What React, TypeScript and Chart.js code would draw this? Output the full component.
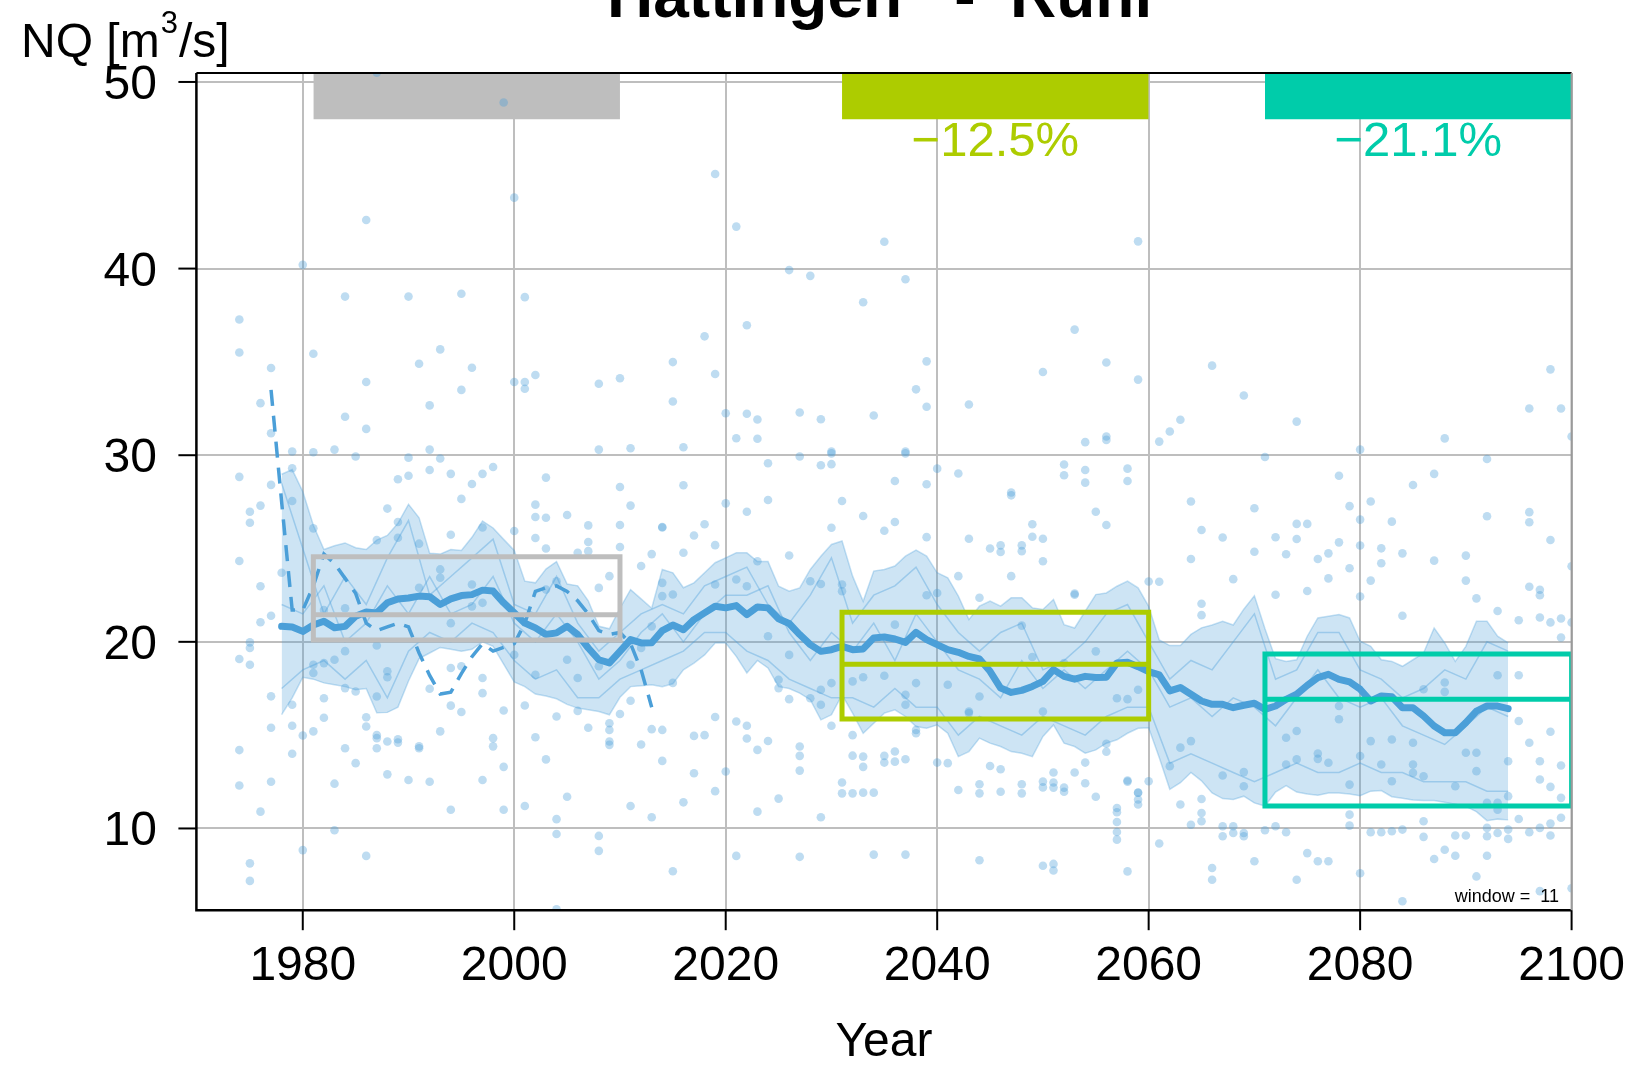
import React, { useEffect, useRef } from "react";
import { Chart, registerables } from "chart.js";

Chart.register(...registerables);

const W = 1638;
const H = 1072;
const FONT = '"Liberation Sans", Arial, Helvetica, sans-serif';

// ---- axes ----
const xTicks = [1980, 2000, 2020, 2040, 2060, 2080, 2100];
const yTicks = [10, 20, 30, 40, 50];

// ---- ensemble running mean (window = 11), yearly from 1978 ----
const bandStartYear = 1978;
const median = [
  20.83, 20.8, 20.56, 20.9, 21.1, 20.75, 20.83, 21.37, 21.6, 21.55,
  22.09, 22.3, 22.35, 22.45, 22.42, 22.0, 22.3, 22.48, 22.53, 22.77,
  22.72, 22.09, 21.55, 21.0, 20.75, 20.39, 20.48, 20.83, 20.39, 19.67,
  19.04, 18.87, 19.49, 20.12, 19.94, 19.95, 20.6, 20.9, 20.65, 21.19,
  21.55, 21.91, 21.82, 21.94, 21.46, 21.87, 21.82, 21.23, 20.98, 20.39,
  19.85, 19.49, 19.58, 19.76, 19.58, 19.62, 20.21, 20.26, 20.15, 19.97,
  20.51, 20.12, 19.85, 19.58, 19.44, 19.22, 19.08, 18.42, 17.52, 17.29,
  17.4, 17.61, 17.88, 18.51, 18.15, 18.0, 18.15, 18.09, 18.1, 18.87,
  18.9, 18.67, 18.4, 18.23, 17.37, 17.55, 17.19, 16.83, 16.65, 16.65,
  16.47, 16.6, 16.71, 16.38, 16.56, 16.92, 17.19, 17.67, 18.08, 18.26,
  17.99, 17.85, 17.46, 16.83, 17.1, 17.06, 16.47, 16.47, 16.03, 15.49,
  15.13, 15.13, 15.67, 16.29, 16.56, 16.56, 16.42,
];
const bandUpper = [
  28.98, 29.23, 28.05, 26.25, 24.95, 25.15, 25.3, 25.04, 24.95, 25.45,
  25.7, 26.35, 27.37, 26.65, 24.75, 24.7, 24.95, 24.9, 25.6, 26.47,
  26.1, 25.49, 24.9, 23.25, 23.16, 23.9, 24.3, 23.1, 23.0, 22.2,
  20.83, 20.7, 21.8, 22.8, 22.3, 21.8, 23.88, 23.7, 22.9, 23.16,
  23.7, 24.24, 24.5, 24.77, 24.77, 24.3, 24.3, 22.98, 22.71, 22.89,
  23.88, 24.59, 25.22, 25.4, 23.52, 22.17, 23.79, 23.88, 24.06, 24.59,
  24.92, 24.59, 23.7, 23.43, 22.45, 21.19, 21.91, 22.18, 21.91, 22.36,
  22.36, 21.82, 21.73, 22.27, 20.92, 20.74, 21.64, 22.53, 22.62, 22.98,
  23.25, 22.89, 21.9, 20.1, 19.8, 19.8, 20.4, 20.75, 20.9, 21.1,
  20.9, 21.75, 22.47, 20.7, 19.1, 18.95, 19.04, 20.3, 21.28, 21.37,
  21.46, 21.28, 20.03, 19.76, 19.04, 18.95, 18.69, 19.04, 19.4, 20.74,
  19.94, 18.95, 19.76, 21.1, 21.1, 20.3, 19.94,
];
const bandLower = [
  16.1, 17.0, 18.1, 18.0, 17.8, 17.7, 17.6, 17.43, 17.5, 16.2,
  16.22, 16.5, 17.9, 19.1, 19.4, 19.7, 19.6, 19.5, 19.6, 20.0,
  19.76, 18.8, 17.85, 17.6, 17.2, 17.1, 16.95, 16.65, 16.45, 16.36,
  16.27, 16.09, 17.03, 17.6, 17.65, 17.7, 17.6, 17.75, 18.5, 18.86,
  19.3, 19.94, 19.94, 19.22, 18.33, 19.0, 18.6, 17.6, 17.5, 17.25,
  16.9, 15.82, 16.09, 17.16, 16.18, 15.1, 15.64, 16.18, 16.36, 16.0,
  15.46, 15.37, 15.55, 15.1, 13.85, 14.12, 14.84, 14.57, 14.39, 14.12,
  14.03, 13.85, 14.93, 15.55, 14.57, 14.39, 14.03, 14.21, 14.57, 14.75,
  15.1, 15.37, 15.4, 13.8, 12.1, 12.45, 13.0, 12.55, 11.9, 11.6,
  11.55, 11.73, 11.37, 11.2, 11.95, 12.3, 11.95, 11.85, 11.78, 11.9,
  11.9, 11.85, 11.75, 12.0, 12.03, 11.7, 11.62, 11.53, 11.5, 11.5,
  11.4, 11.3, 11.18, 10.9, 10.42, 10.5, 10.46,
];

// ---- single ensemble members (every 2nd year from 1978) ----
const memberStartYear = 1978;
const memberA = [
  28.5, 25, 21.5, 23.5, 22, 24.5, 26.5, 22.5, 23.5, 24.5, 25.5, 22, 21.5, 23.5, 21,
  19.5, 20.5, 21.5, 22, 21.5, 23, 23.5, 24, 22, 21, 22.5, 24.5, 21, 22.5, 23,
  24, 22, 20.5, 19.5, 20.5, 21, 18.5, 19, 20, 21.5, 22, 20, 18, 19, 18.5,
  20, 21.5, 18, 18.5, 20.5, 20.5, 18.5, 18, 17, 17.5, 18.5, 18, 20, 19.5,
];
const memberB = [
  17.5, 18.5, 19, 18, 19, 17, 19.5, 20.5, 20, 21, 20.5, 19, 18, 18.5, 17,
  17, 18, 18.5, 19, 19.5, 20.5, 20.5, 19.5, 19, 18, 17.5, 17, 17, 16.5, 17.5,
  16.5, 16.5, 15, 16, 15.5, 15, 16, 15.5, 15, 16, 16.5, 16.5, 13.5, 14, 13.5,
  13, 12.5, 13, 13.5, 13, 13, 13.5, 13, 13, 12.5, 12.5, 12.5, 12, 12,
];
const memberC = [
  22, 21.5, 23, 20, 21, 23, 21.5, 23.5, 21.5, 22, 23.5, 21, 20, 21.5, 20,
  18, 19, 20.5, 21.5, 20, 21.5, 22.5, 22.5, 23, 20.5, 19, 20.5, 19.5, 21, 19,
  21.5, 20, 18.5, 18, 17, 19, 17.5, 18.5, 17.5, 18.5, 19.5, 18.5, 16.5, 17, 16,
  17, 16.5, 15.5, 17, 18.5, 17, 16.5, 17, 15.5, 15, 14.5, 15.5, 16.5, 16,
];

// ---- observed running mean (dashed), yearly from 1977 ----
const observedStartYear = 1977;
const observed = [
  33.5, 27.5, 21.7, 21.7, 23.0, 24.7, 24.2, 23.4, 22.6, 21.0,
  20.6, 20.8, 21.0, 20.8, 19.4, 18.2, 17.2, 17.3, 18.3, 19.2,
  19.9, 19.5, 19.7, 19.9, 21.0, 22.7, 22.9, 23.0, 22.7, 22.2,
  21.5, 20.6, 20.4, 20.5, 19.9, 18.5, 16.5,
];

// ---- periods: reference 1981-2010, near future, far future ----
const periodStart = [1981, 2031, 2071];
const periodEnd = [2010, 2060, 2100];
const boxLow = [20.1, 15.86, 11.2];
const boxHigh = [24.56, 21.58, 19.35];
const boxMean = [21.45, 18.8, 16.92];
const changeLabels = ["", "\u221212.5%", "\u221221.1%"];
const barBottom = 48;

// ---- annual values of all members (year, value) ----
const dots: [number, number][] = [
  [1987, 50.5], [1999, 48.9], [2000, 43.8], [1986, 42.6], [1980, 40.2], [1984, 38.5], [1990, 38.5],
  [1995, 38.65], [2001, 38.47], [1974, 37.27], [1974, 35.5], [1981, 35.44], [1993, 35.67], [1977, 34.67],
  [1991, 34.9], [1996, 34.69], [1986, 33.92], [2000, 33.92], [2001, 33.92], [2001, 33.56], [2002, 34.3],
  [1995, 33.5], [2008, 33.83], [2010, 34.12], [2015, 34.99], [2015, 32.88], [1976, 32.79], [1992, 32.67],
  [1984, 32.06], [1986, 31.41], [1977, 31.18], [1979, 30.2], [1981, 30.16], [1983, 30.3], [1992, 30.3],
  [2008, 30.3], [2011, 30.37], [2016, 30.43],
  [2019, 45.07], [2021, 42.25], [2035, 41.44], [2059, 41.46], [2026, 39.92], [2028, 39.61], [2037, 39.43],
  [2033, 38.2], [2022, 36.96], [2053, 36.73], [2018, 36.37], [2019, 34.35], [2039, 35.03], [2056, 34.97],
  [2050, 34.46], [2059, 34.05], [2038, 33.53], [2039, 32.6], [2043, 32.72], [2020, 32.25], [2022, 32.22],
  [2023, 31.91], [2027, 32.29], [2029, 31.93], [2034, 32.13], [2021, 30.91], [2023, 30.88], [2056, 31.0],
  [2056, 30.82], [2054, 30.7], [2061, 30.73], [2062, 31.27], [2063, 31.9], [2030, 30.2], [2037, 30.2],
  [1985, 29.93], [1990, 29.87], [1993, 29.82], [1974, 28.84], [1979, 29.3], [1979, 27.55], [1977, 28.41],
  [1976, 27.3], [1975, 26.97], [1975, 26.38], [1989, 28.71], [1990, 28.9], [1992, 29.21], [1994, 29.0],
  [1997, 29.0], [1998, 29.37], [1996, 28.46], [1995, 27.66], [2003, 28.8], [2002, 27.35], [2002, 26.69],
  [2003, 26.65], [2005, 26.8], [2010, 28.3], [2011, 27.3], [2014, 26.13], [2013, 24.7], [2012, 24.06],
  [2009, 23.52], [2010, 26.26], [2010, 25.08], [2007, 26.24], [2007, 25.35], [2007, 24.86], [2006, 24.77],
  [2008, 22.89], [2000, 25.94], [2002, 25.56], [2003, 25.0], [1994, 25.74], [1988, 27.14], [1989, 26.42],
  [1989, 25.58], [1987, 25.45], [1991, 25.26], [1997, 26.13], [1981, 26.08], [1974, 24.33], [1976, 22.98],
  [1978, 23.7], [1976, 21.05], [1977, 21.4], [1974, 19.08], [1975, 19.97], [1975, 19.67], [1975, 18.77],
  [1977, 17.08], [1979, 16.63], [1979, 15.5], [1980, 14.98], [1982, 16.98], [1982, 15.93], [1984, 17.52],
  [1985, 17.34], [1986, 15.96], [1986, 15.46], [1987, 14.84], [1988, 14.66], [1989, 14.78], [1991, 14.4],
  [1992, 17.49], [1994, 18.6], [1995, 16.24], [1994, 16.58], [1997, 18.06], [1997, 17.25], [1998, 14.84],
  [1998, 14.4], [1999, 16.32], [2001, 16.59], [2002, 14.89], [2004, 16.0], [2006, 16.3], [2009, 15.64],
  [2009, 15.28], [2009, 14.66], [2009, 14.48], [2010, 16.13], [2012, 14.5], [2013, 15.32], [2014, 15.28],
  [2011, 16.84], [1981, 18.77], [1981, 18.33], [1982, 18.86], [1983, 19.04], [1982, 21.7], [1984, 21.8],
  [1984, 19.5], [1987, 19.8], [1988, 18.42], [1988, 18.1], [1987, 17.07], [1991, 22.9], [1993, 23.88],
  [1993, 23.43], [1994, 21.0], [1995, 18.69], [1996, 23.07], [1996, 21.9], [1997, 22.09], [2000, 19.31],
  [2002, 18.24], [2003, 22.8], [2004, 23.25], [2005, 19.04], [2006, 18.06], [2008, 18.69], [2011, 18.77],
  [2012, 19.67], [2013, 20.83], [2014, 23.16], [2015, 22.54], [2015, 17.8],
  [2016, 28.39], [2024, 29.57], [2027, 29.93], [2029, 29.46], [2030, 30.1], [2030, 29.52], [2037, 30.1],
  [2024, 27.6], [2022, 26.97], [2014, 26.15], [2018, 26.3], [2017, 25.7], [2019, 25.18], [2016, 24.77],
  [2020, 27.42], [2031, 27.55], [2033, 26.74], [2030, 26.11], [2036, 28.62], [2039, 28.44], [2040, 29.28],
  [2042, 29.02], [2036, 26.42], [2035, 25.95], [2039, 25.61], [2047, 28.0], [2047, 27.85], [2052, 29.5],
  [2052, 28.93], [2054, 29.21], [2054, 28.53], [2058, 29.28], [2058, 28.62], [2043, 25.52], [2045, 25.0],
  [2046, 25.17], [2046, 24.81], [2048, 25.17], [2048, 24.86], [2049, 26.3], [2049, 25.63], [2050, 25.52],
  [2050, 24.32], [2055, 26.97], [2056, 26.26], [2047, 23.52], [2044, 22.36], [2042, 23.52], [2053, 22.52],
  [2060, 23.23], [2026, 24.63], [2023, 24.32], [2022, 22.98], [2014, 22.45], [2028, 23.25], [2029, 23.1],
  [2031, 23.07], [2031, 22.71],
  [2017, 14.96], [2018, 15.0], [2019, 15.97], [2021, 15.73], [2022, 15.5], [2022, 14.82], [2023, 14.21],
  [2024, 14.69], [2014, 13.62], [2017, 12.96], [2020, 13.05], [2027, 14.39], [2027, 13.89], [2027, 13.1],
  [2030, 15.5], [2031, 12.46], [2031, 11.88], [2032, 15.0], [2032, 13.9], [2032, 11.88], [2033, 13.85],
  [2033, 13.3], [2033, 11.92], [2034, 11.92], [2035, 13.89], [2035, 13.53], [2036, 14.12], [2036, 13.58],
  [2037, 13.71], [2038, 15.28], [2038, 15.1], [2040, 13.53], [2041, 13.5], [2042, 12.06], [2044, 12.37],
  [2044, 11.88], [2045, 13.35], [2046, 13.17], [2046, 11.97], [2048, 12.37], [2048, 11.88], [2050, 12.51],
  [2050, 12.2], [2051, 13.0], [2051, 12.46], [2051, 12.19], [2052, 12.19], [2052, 11.97], [2053, 13.0],
  [2054, 13.53], [2054, 12.42], [2055, 11.7], [2058, 12.51], [2059, 11.92],
  [2019, 23.07], [2021, 23.34], [2024, 20.3], [2026, 19.3], [2025, 17.97], [2025, 17.52], [2026, 16.93],
  [2028, 16.98], [2029, 17.43], [2029, 16.63], [2030, 17.79], [2032, 17.88], [2033, 18.1], [2035, 18.18],
  [2036, 20.92], [2037, 17.16], [2037, 16.63], [2038, 17.79], [2039, 22.5], [2040, 22.62], [2041, 17.7],
  [2043, 16.27], [2043, 16.18], [2044, 17.07], [2048, 20.87], [2049, 19.19], [2050, 16.27], [2052, 18.86],
  [2053, 22.59], [2055, 19.49], [2057, 16.98], [2058, 16.93], [2059, 17.43],
  [2064, 27.52], [2081, 27.52], [2070, 27.16], [2079, 27.27], [2096, 26.95], [2096, 26.41], [2092, 26.73],
  [2074, 26.32], [2075, 26.32], [2080, 26.55], [2083, 26.44], [2065, 25.99], [2074, 25.51], [2072, 25.6],
  [2078, 25.33], [2098, 25.46], [2080, 25.16], [2082, 25.01], [2070, 24.83], [2073, 24.69], [2077, 24.74],
  [2084, 24.74], [2090, 24.62], [2064, 24.44], [2076, 24.44], [2082, 24.21], [2087, 24.35], [2067, 25.59],
  [2079, 23.94], [2100, 24.05], [2068, 23.36], [2061, 23.22], [2077, 23.4], [2081, 23.28], [2090, 23.28],
  [2096, 22.95], [2097, 22.79], [2097, 22.5], [2072, 22.52], [2075, 22.72], [2091, 22.33], [2065, 22.04],
  [2065, 21.43], [2080, 22.43], [2084, 21.4], [2093, 21.65], [2095, 21.16], [2097, 21.3], [2099, 21.25],
  [2100, 21.04], [2098, 21.04], [2099, 20.23], [2095, 18.21], [2098, 15.18], [2096, 14.59], [2095, 15.76],
  [2097, 13.6], [2099, 13.37], [2097, 12.62], [2098, 12.23], [2099, 11.64], [2095, 10.51], [2096, 9.8],
  [2097, 10.03], [2098, 10.26], [2099, 10.57], [2098, 9.62], [2093, 9.76], [2094, 9.94], [2094, 9.44],
  [2092, 10.03], [2092, 9.58], [2092, 8.54], [2091, 7.43], [2090, 9.62], [2089, 9.62], [2089, 8.54],
  [2087, 8.36], [2088, 8.86], [2086, 10.39], [2086, 9.55], [2084, 9.94], [2083, 9.85], [2082, 9.8],
  [2081, 9.8], [2079, 10.74], [2079, 10.15], [2077, 8.24], [2076, 8.24], [2075, 8.68], [2074, 7.25],
  [2073, 9.8], [2072, 10.12], [2071, 9.9], [2070, 8.24], [2069, 9.76], [2069, 9.58], [2068, 10.12],
  [2068, 9.76], [2067, 10.12], [2067, 9.58], [2066, 7.88], [2066, 7.25], [2065, 10.83], [2065, 10.39],
  [2064, 10.2], [2063, 11.28], [2061, 9.19], [2058, 7.7], [2059, 11.91], [2059, 11.55], [2059, 11.28],
  [2057, 11.1], [2057, 10.87], [2057, 10.35], [2057, 9.81], [2057, 9.4], [2056, 14.54], [2056, 14.11],
  [2060, 12.53], [2058, 12.57],
  [2063, 14.33], [2062, 13.34], [2064, 14.68], [2065, 11.58], [2067, 12.84], [2069, 13.02], [2069, 12.26],
  [2073, 14.86], [2074, 15.22], [2073, 13.43], [2074, 13.7], [2076, 14.02], [2076, 13.73], [2077, 13.52],
  [2078, 16.56], [2078, 15.85], [2079, 12.35], [2080, 13.88], [2081, 14.68], [2082, 13.43], [2083, 14.77],
  [2083, 12.53], [2085, 14.59], [2085, 13.43], [2085, 12.98], [2086, 12.8], [2086, 17.46], [2088, 17.82],
  [2088, 17.32], [2090, 14.06], [2091, 14.06], [2091, 13.07], [2093, 18.21], [2094, 13.6], [2094, 11.73],
  [2093, 11.37], [2093, 11.0], [2092, 11.37], [2089, 12.26],
  [1975, 8.13], [1975, 7.19], [1986, 8.53], [2015, 7.71], [2021, 8.53], [2027, 8.48], [2034, 8.6],
  [2037, 8.6], [2044, 8.3], [2050, 8.0], [2051, 8.1], [2051, 7.75], [2080, 7.6], [2084, 6.1],
  [2097, 6.64], [2100, 6.8], [1980, 8.84], [2004, 5.67], [2008, 8.8],
  // lower-left and upper-right areas
  [1974, 14.2], [1974, 12.3], [1976, 10.9], [1977, 12.5], [1977, 15.4], [1979, 14.0], [1981, 15.2],
  [1983, 12.4], [1983, 9.9], [1984, 14.3], [1985, 13.5], [1987, 15.0], [1987, 14.3], [1988, 12.9],
  [1989, 14.6], [1990, 12.6], [1991, 14.3], [1992, 12.5], [1993, 15.2], [1994, 11.0], [1997, 12.6],
  [1999, 11.0], [1999, 13.3], [2001, 11.2], [2003, 13.7], [2004, 10.5], [2004, 9.7], [2005, 11.7],
  [2007, 15.4], [2008, 9.6], [2011, 11.2], [2013, 10.6], [2016, 11.4], [2019, 12.0], [2023, 10.9],
  [2025, 11.6], [2029, 10.6], [2066, 34.8], [2069, 33.2], [2071, 29.9], [2074, 31.8], [2080, 30.3],
  [2085, 28.4], [2088, 30.9], [2092, 29.8], [2096, 32.5], [2098, 34.6], [2099, 32.5], [2100, 31.0],
  [2078, 28.9], [2087, 29.0],
];

// ---- styles ----
const BLUE = "#4B9FD8";
const periodColors = ["#BEBEBE", "#ADCC00", "#00CCAA"];
const GRID = "#BEBEBE";

const yearSeries = (start: number, step: number, vals: number[]) =>
  vals.map((v, i) => ({ x: start + i * step, y: v }));

const decorPlugin = {
  id: "decor",
  afterDraw(chart: any) {
    const { ctx, chartArea: a, scales } = chart;
    const xs = scales.x;
    const ys = scales.y;
    ctx.save();
    // box
    ctx.strokeStyle = "#000";
    ctx.lineWidth = 2.5;
    ctx.beginPath();
    ctx.moveTo(a.left, a.top);
    ctx.lineTo(a.left, a.bottom);
    ctx.lineTo(a.right, a.bottom);
    ctx.stroke();
    ctx.lineWidth = 2;
    ctx.beginPath();
    ctx.moveTo(a.left, a.top);
    ctx.lineTo(a.right, a.top);
    ctx.stroke();
    ctx.strokeStyle = "#9a9a9a";
    ctx.beginPath();
    ctx.moveTo(a.right, a.top);
    ctx.lineTo(a.right, a.bottom);
    ctx.stroke();

    // ticks
    ctx.strokeStyle = "#000";
    ctx.lineWidth = 2;
    ctx.fillStyle = "#000";
    ctx.font = `48px ${FONT}`;
    ctx.textBaseline = "alphabetic";
    ctx.textAlign = "center";
    xTicks.forEach((t) => {
      const px = xs.getPixelForValue(t);
      ctx.beginPath();
      ctx.moveTo(px, a.bottom);
      ctx.lineTo(px, a.bottom + 20);
      ctx.stroke();
      ctx.fillText(String(t), px, 980);
    });
    ctx.textAlign = "right";
    yTicks.forEach((t) => {
      const py = ys.getPixelForValue(t);
      ctx.beginPath();
      ctx.moveTo(a.left - 18, py);
      ctx.lineTo(a.left, py);
      ctx.stroke();
      ctx.fillText(String(t), 157, py + 17);
    });

    // axis titles
    ctx.textAlign = "center";
    ctx.fillText("Year", (a.left + a.right) / 2, 1056);
    ctx.textAlign = "left";
    let x0 = 21;
    ctx.fillText("NQ [m", x0, 57);
    x0 += ctx.measureText("NQ [m").width;
    ctx.font = `31px ${FONT}`;
    ctx.fillText("3", x0 + 1, 33);
    x0 += ctx.measureText("3").width + 2;
    ctx.font = `48px ${FONT}`;
    ctx.fillText("/s]", x0, 57);

    // main title
    ctx.font = `bold 64px ${FONT}`;
    ctx.textAlign = "left";
    ctx.fillText("Hattingen", 607, 17);
    ctx.textAlign = "center";
    ctx.fillText("-", 965, 17);
    ctx.textAlign = "left";
    ctx.fillText("Ruhr", 1010, 17);

    // change labels
    ctx.font = `49px ${FONT}`;
    ctx.textAlign = "center";
    changeLabels.forEach((lab, i) => {
      if (!lab) return;
      ctx.fillStyle = periodColors[i];
      const cx = xs.getPixelForValue((periodStart[i] + periodEnd[i]) / 2);
      ctx.fillText(lab, cx, 155.5);
    });

    // window note
    ctx.fillStyle = "#000";
    ctx.font = `18px ${FONT}`;
    ctx.textAlign = "right";
    ctx.fillText("window =  11", 1559, 902);
    ctx.restore();
  },
};

export default function App() {
  const ref = useRef<HTMLCanvasElement | null>(null);

  useEffect(() => {
    if (!ref.current) return;
    const datasets: any[] = [];

    // top colour bars
    periodStart.forEach((s, i) => {
      datasets.push({
        type: "line",
        data: [
          { x: s, y: barBottom },
          { x: periodEnd[i], y: barBottom },
        ],
        borderWidth: 0,
        borderColor: "rgba(0,0,0,0)",
        backgroundColor: periodColors[i],
        fill: "end",
        pointRadius: 0,
        order: 9,
      });
    });

    // annual values
    datasets.push({
      type: "scatter",
      data: dots.map(([x, y]) => ({ x, y })),
      pointRadius: 4.3,
      pointBorderWidth: 0,
      pointBackgroundColor: "rgba(74,159,217,0.36)",
      backgroundColor: "rgba(74,159,217,0.36)",
      borderColor: "rgba(0,0,0,0)",
      order: 8,
    });

    // band (upper fills to lower)
    datasets.push({
      type: "line",
      data: yearSeries(bandStartYear, 1, bandUpper),
      borderColor: "rgba(74,159,217,0.32)",
      borderWidth: 1.5,
      backgroundColor: "rgba(74,159,217,0.28)",
      fill: "+1",
      pointRadius: 0,
      order: 7,
    });
    datasets.push({
      type: "line",
      data: yearSeries(bandStartYear, 1, bandLower),
      borderColor: "rgba(74,159,217,0.32)",
      borderWidth: 1.5,
      fill: false,
      pointRadius: 0,
      order: 7,
    });

    // members
    [memberA, memberB, memberC].forEach((m) => {
      datasets.push({
        type: "line",
        data: yearSeries(memberStartYear, 2, m),
        borderColor: "rgba(74,159,217,0.38)",
        borderWidth: 1.5,
        fill: false,
        pointRadius: 0,
        order: 6,
      });
    });

    // median
    datasets.push({
      type: "line",
      data: yearSeries(bandStartYear, 1, median),
      borderColor: BLUE,
      borderWidth: 7,
      borderCapStyle: "round",
      borderJoinStyle: "round",
      fill: false,
      pointRadius: 0,
      order: 4,
    });

    // observed dashed
    datasets.push({
      type: "line",
      data: yearSeries(observedStartYear, 1, observed),
      borderColor: BLUE,
      borderWidth: 3.5,
      borderDash: [16, 10],
      fill: false,
      pointRadius: 0,
      order: 3,
    });

    // period boxes
    periodStart.forEach((s, i) => {
      const e = periodEnd[i];
      datasets.push({
        type: "line",
        data: [
          { x: s, y: boxLow[i] },
          { x: e, y: boxLow[i] },
          { x: e, y: boxHigh[i] },
          { x: s, y: boxHigh[i] },
          { x: s, y: boxLow[i] },
        ],
        borderColor: periodColors[i],
        borderWidth: 5,
        borderJoinStyle: "miter",
        borderCapStyle: "square",
        fill: false,
        pointRadius: 0,
        order: 1,
      });
      datasets.push({
        type: "line",
        data: [
          { x: s, y: boxMean[i] },
          { x: e, y: boxMean[i] },
        ],
        borderColor: periodColors[i],
        borderWidth: 5,
        fill: false,
        pointRadius: 0,
        order: 1,
      });
    });

    const chart = new Chart(ref.current, {
      type: "line",
      data: { datasets },
      options: {
        responsive: false,
        animation: false,
        devicePixelRatio: 1,
        events: [],
        layout: { padding: { top: 73, right: 66.4, left: 0, bottom: 0 } },
        plugins: {
          legend: { display: false },
          tooltip: { enabled: false },
          title: { display: false },
        },
        elements: { line: { tension: 0 }, point: { radius: 0 } },
        scales: {
          x: {
            type: "linear",
            min: 1969.94,
            max: 2100,
            afterBuildTicks: (s: any) => {
              s.ticks = xTicks.map((v) => ({ value: v }));
            },
            afterFit: (s: any) => {
              s.height = H - 910.2;
            },
            grid: { color: GRID, lineWidth: 2, drawTicks: false },
            border: { display: false },
            ticks: { display: false },
          },
          y: {
            type: "linear",
            min: 5.62,
            max: 50.48,
            afterBuildTicks: (s: any) => {
              s.ticks = yTicks.map((v) => ({ value: v }));
            },
            afterFit: (s: any) => {
              s.width = 196.4;
            },
            grid: { color: GRID, lineWidth: 2, drawTicks: false },
            border: { display: false },
            ticks: { display: false },
          },
        },
      } as any,
      plugins: [decorPlugin],
    });
    return () => chart.destroy();
  }, []);

  return (
    <div style={{ position: "fixed", left: 0, top: 0, width: W, height: H, background: "#fff" }}>
      <canvas ref={ref} width={W} height={H} style={{ width: W, height: H, display: "block" }} />
    </div>
  );
}
